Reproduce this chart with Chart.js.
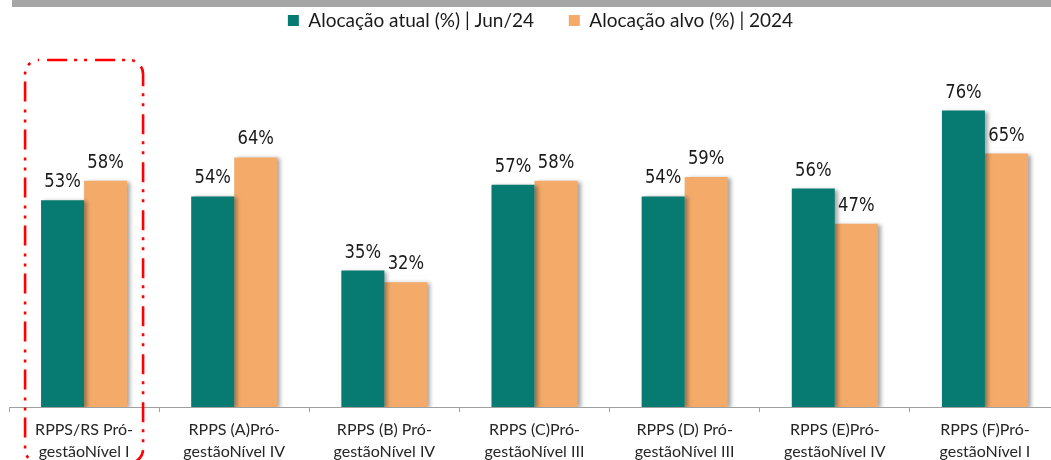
<!DOCTYPE html>
<html>
<head>
<meta charset="utf-8">
<script src="https://cdn.jsdelivr.net/npm/chart.js@4"></script>
<style>
  html, body { margin: 0; padding: 0; background: #fff; overflow: hidden; }
  #wrap { position: absolute; left: 0; top: 0; width: 1062px; height: 460px; }
  #topbar { position: absolute; left: 12px; top: 0; right: 0; height: 7px; background: #a6a6a6; }
</style>
</head>
<body>
<div id="wrap"><canvas id="alloc_chart"></canvas></div>
<div id="topbar"></div>
<script>
const categories = [
  ['RPPS/RS Pró-', 'gestãoNível I'],
  ['RPPS (A)Pró-', 'gestãoNível IV'],
  ['RPPS (B) Pró-', 'gestãoNível IV'],
  ['RPPS (C)Pró-', 'gestãoNível III'],
  ['RPPS (D) Pró-', 'gestãoNível III'],
  ['RPPS (E)Pró-', 'gestãoNível IV'],
  ['RPPS (F)Pró-', 'gestãoNível I']
];
const series_names = ['Alocação atual (%) | Jun/24', 'Alocação alvo (%) | 2024'];
const atual = [53, 54, 35, 57, 54, 56, 76];
const alvo = [58, 64, 32, 58, 59, 47, 65];

const teal = '#077A72';
const orange = '#F4AB6A';

// legend needs a fixed height so the plot area starts where it should
const legendHeight = {
  id: 'legendHeight',
  beforeInit(chart) {
    const fit = chart.legend.fit;
    chart.legend.fit = function () {
      fit.call(this);
      this.height = 56;
    };
  },
  afterLayout(chart) {
    // nudge the centred legend row a little to the right
    chart.legend.left += 12;
  }
};

// soft shadow behind bars + value labels on top
const barExtras = {
  id: 'barExtras',
  beforeDatasetsDraw(chart) {
    const ctx = chart.ctx;
    ctx.save();
    ctx.shadowColor = 'rgba(0,0,0,0.35)';
    ctx.shadowBlur = 4;
    ctx.shadowOffsetX = 3;
    ctx.shadowOffsetY = 1;
  },
  afterDatasetsDraw(chart) {
    const ctx = chart.ctx;
    ctx.restore();
    ctx.save();
    ctx.font = '20px "DejaVu Sans"';
    ctx.fillStyle = '#1a1a1a';
    ctx.textAlign = 'center';
    ctx.textBaseline = 'alphabetic';
    chart.data.datasets.forEach((ds, i) => {
      chart.getDatasetMeta(i).data.forEach((bar, j) => {
        ctx.save();
        ctx.translate(bar.x, bar.y - 13);
        ctx.scale(0.82, 1);
        ctx.fillText(ds.data[j] + '%', 0, 0);
        ctx.restore();
      });
    });
    ctx.restore();
  }
};

// red dash-dot frame round the first group
const highlight = {
  id: 'highlight',
  afterDraw(chart) {
    const ctx = chart.ctx;
    const cx = chart.scales.x.getPixelForValue(0);
    const l = cx - 59, r = cx + 59, t = 60, b = 463, rad = 14;
    ctx.save();
    ctx.strokeStyle = '#ff0000';
    ctx.lineWidth = 2.6;
    ctx.setLineDash([20, 7, 3, 7, 3, 8]);
    ctx.lineDashOffset = 40;
    ctx.beginPath();
    ctx.moveTo(l + rad, t);
    ctx.lineTo(r - rad, t);
    ctx.arcTo(r, t, r, t + rad, rad);
    ctx.lineTo(r, b - rad);
    ctx.arcTo(r, b, r - rad, b, rad);
    ctx.lineTo(l + rad, b);
    ctx.arcTo(l, b, l, b - rad, rad);
    ctx.lineTo(l, t + rad);
    ctx.arcTo(l, t, l + rad, t, rad);
    ctx.stroke();
    ctx.restore();
  }
};

const alloc_ctx = document.getElementById('alloc_chart');

const alloc_config = {
  type: 'bar',
  data: {
    labels: categories,
    datasets: [
      { label: series_names[0], data: atual, backgroundColor: teal, borderWidth: 0 },
      { label: series_names[1], data: alvo, backgroundColor: orange, borderWidth: 0 }
    ]
  },
  options: {
    responsive: true,
    maintainAspectRatio: false,
    animation: false,
    layout: { padding: { left: 9, right: 2, top: 0, bottom: 0 } },
    datasets: {
      bar: { categoryPercentage: 0.573, barPercentage: 1 }
    },
    plugins: {
      tooltip: { enabled: false },
      legend: {
        position: 'top',
        labels: {
          boxWidth: 11,
          boxHeight: 11,
          padding: 11,
          color: '#1a1a1a',
          font: { family: 'Lato', size: 19 },
          generateLabels(chart) {
            const items = Chart.defaults.plugins.legend.labels.generateLabels(chart);
            items[0].text += '\u2003\u2002';
            return items;
          }
        }
      }
    },
    scales: {
      x: {
        border: { display: true, color: '#a0a0a0', width: 1 },
        grid: { display: true, drawOnChartArea: false, drawTicks: true, tickLength: 5, color: '#a0a0a0', offset: true },
        ticks: {
          color: '#262626',
          font: { family: 'Lato', size: 16, lineHeight: 1.42 },
          padding: 6,
          maxRotation: 0,
          autoSkip: false
        },
        afterFit(scale) { scale.height = 53; }
      },
      y: { display: false, min: 0, max: 90 }
    }
  },
  plugins: [legendHeight, barExtras, highlight]
};

const alloc_chart = new Chart(alloc_ctx, alloc_config);
</script>
</body>
</html>
